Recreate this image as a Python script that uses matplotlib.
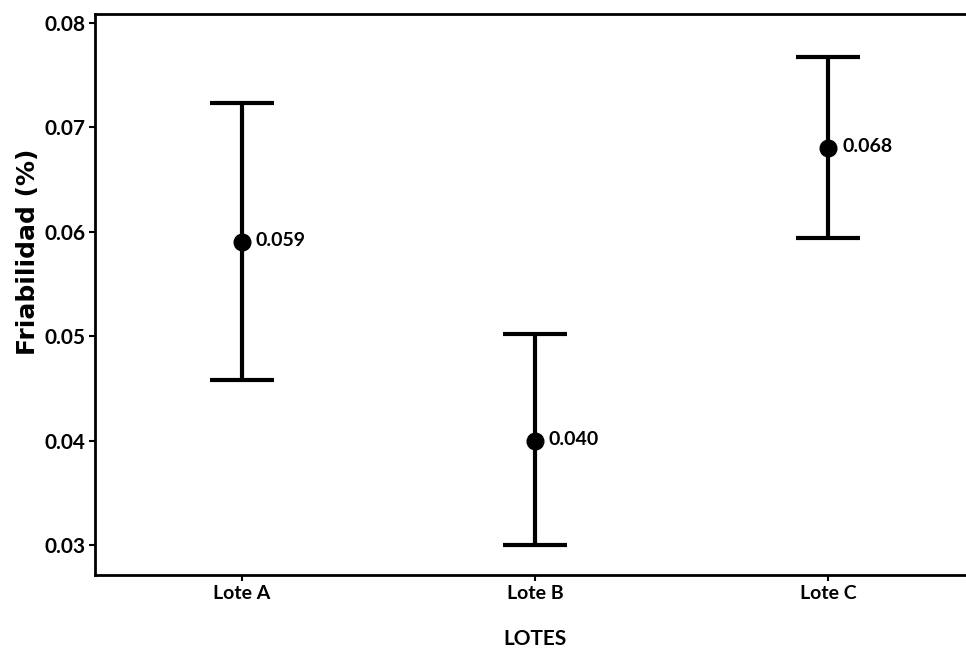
import matplotlib
matplotlib.use("Agg")
import matplotlib.pyplot as plt
import numpy as np

# data
lotes = ["Lote A", "Lote B", "Lote C"]
medias = [0.059, 0.040, 0.068]
sup = [0.0723, 0.0502, 0.0767]
inf = [0.0458, 0.0300, 0.0594]
etiquetas = ["0.059", "0.040", "0.068"]
yticks = [0.03, 0.04, 0.05, 0.06, 0.07, 0.08]

plt.rcParams['font.family'] = ['Lato', 'DejaVu Sans']

fig = plt.figure(figsize=(9.66, 6.5), dpi=100)
ax = fig.add_axes([0.0983, 0.1154, 0.911, 0.863])

x = np.arange(1, len(lotes) + 1)
med = np.array(medias)
err = [med - np.array(inf), np.array(sup) - med]
ax.errorbar(x, med, yerr=err, fmt='o', color='black', ms=12,
            elinewidth=3, capsize=23, capthick=3)

for xi, yi, t in zip(x, medias, etiquetas):
    ax.annotate(t, (xi, yi), xytext=(10, 1), textcoords='offset points',
                va='center', ha='left', fontsize=14, fontweight='bold')

ax.set_xlim(0.5, 3.5)
ax.set_ylim(0.02713, 0.08086)
ax.set_xticks(x)
ax.set_xticklabels(lotes, fontsize=14, fontweight='bold')
ax.set_yticks(yticks)
ax.set_yticklabels([f"{v:.2f}" for v in yticks], fontsize=15, fontweight='bold')
ax.tick_params(direction='out', length=4, width=1.5, pad=3)

for s in ax.spines.values():
    s.set_linewidth(2)
ax.spines['right'].set_visible(False)

ax.set_ylabel("Friabilidad (%)", fontsize=18, fontweight='bold',
              family='DejaVu Sans')
ax.yaxis.set_label_coords(-0.063, 0.576)
ax.set_xlabel("LOTES", fontsize=15, fontweight='bold', labelpad=20)

fig.savefig("out.png", dpi=100)
